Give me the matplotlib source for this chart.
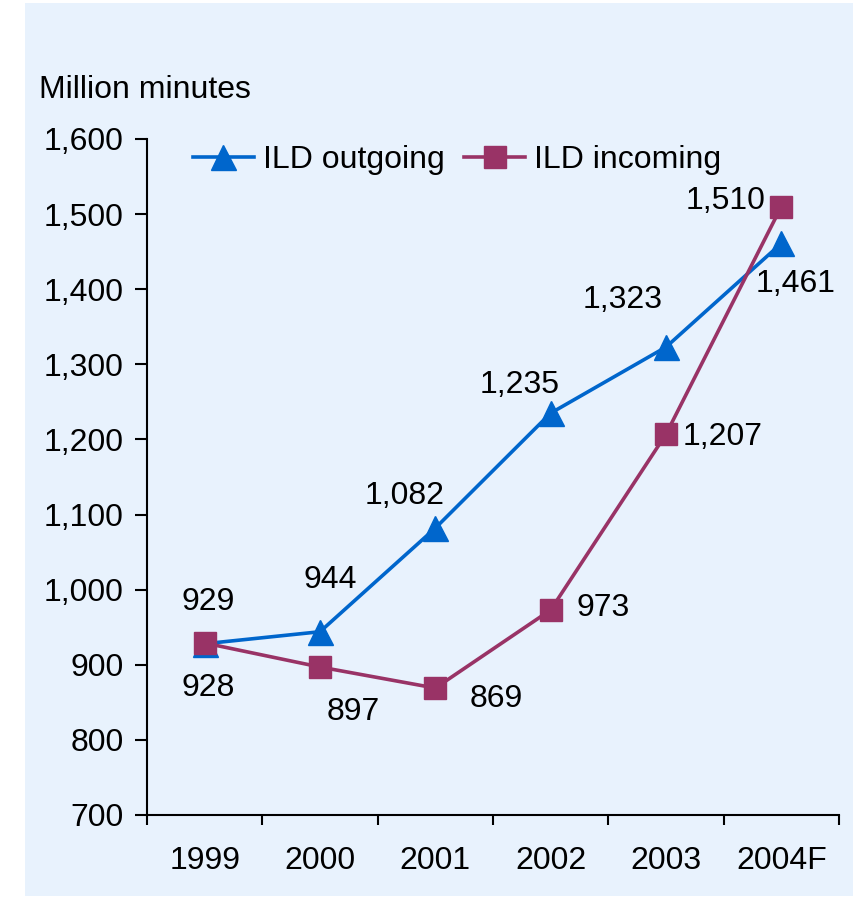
import matplotlib.pyplot as plt
from matplotlib.patches import Rectangle

plt.rcParams['font.family'] = ['Liberation Sans', 'DejaVu Sans']

years = ["1999", "2000", "2001", "2002", "2003", "2004F"]
outgoing = [928, 944, 1082, 1235, 1323, 1461]
incoming = [929, 897, 869, 973, 1207, 1510]

# label offsets in pixels (dx, dy) from each point
out_offsets = [(4, -44), (10, 52), (-31, 32), (-31, 28), (-43, 47), (14, -41)]
in_offsets = [(4, 41), (33, -45), (61, -11), (52, 2), (57, -3), (-56, 6)]

blue = "#0066CC"
maroon = "#993366"
fs = 23

fig = plt.figure(figsize=(8.54, 8.97), dpi=100)
fig.patch.set_facecolor("white")
fig.patches.append(Rectangle((25 / 854, 1 / 897), 828 / 854, 893 / 897,
                             transform=fig.transFigure, facecolor="#E8F2FD",
                             edgecolor="none", zorder=-10))

ax = fig.add_axes([147 / 854, 82 / 897, 692 / 854, 676 / 897])
ax.set_facecolor("none")

x = list(range(len(years)))
ax.plot(x, outgoing, color=blue, lw=2.6, marker="^", markersize=18,
        label="ILD outgoing", zorder=3)
ax.plot(x, incoming, color=maroon, lw=2.6, marker="s", markersize=16,
        label="ILD incoming", zorder=4)

for i in x:
    ax.annotate(f"{outgoing[i]:,}", (i, outgoing[i]), xytext=out_offsets[i],
                textcoords="offset pixels", ha="center", va="center", fontsize=fs)
    ax.annotate(f"{incoming[i]:,}", (i, incoming[i]), xytext=in_offsets[i],
                textcoords="offset pixels", ha="center", va="center", fontsize=fs)

ax.set_xlim(-0.5, 5.5)
ax.set_ylim(700, 1600)
ax.set_yticks(range(700, 1601, 100))
ax.set_yticklabels([f"{v:,}" for v in range(700, 1601, 100)])
ax.set_xticks([i - 0.5 for i in range(7)], minor=False)
ax.set_xticklabels([])
ax.set_xticks(x, minor=True)
ax.set_xticklabels(years, minor=True)
ax.tick_params(axis="x", which="major", length=7, width=1.5, direction="out")
ax.tick_params(axis="x", which="minor", length=0, pad=22, labelsize=fs)
ax.tick_params(axis="y", length=9, width=1.5, direction="out", pad=8, labelsize=fs)

for side in ["top", "right"]:
    ax.spines[side].set_visible(False)
for side in ["left", "bottom"]:
    ax.spines[side].set_linewidth(1.5)

fig.text(39 / 854, 1 - 90 / 897, "Million minutes", fontsize=fs, va="center", ha="left")

ax.legend(loc="center left", bbox_to_anchor=(177 / 854, 1 - 160 / 897),
          bbox_transform=fig.transFigure, ncol=2, frameon=False, fontsize=fs,
          handlelength=1.9, handletextpad=0.3, columnspacing=0.6, borderpad=0)

fig.savefig("out.png", dpi=100)
